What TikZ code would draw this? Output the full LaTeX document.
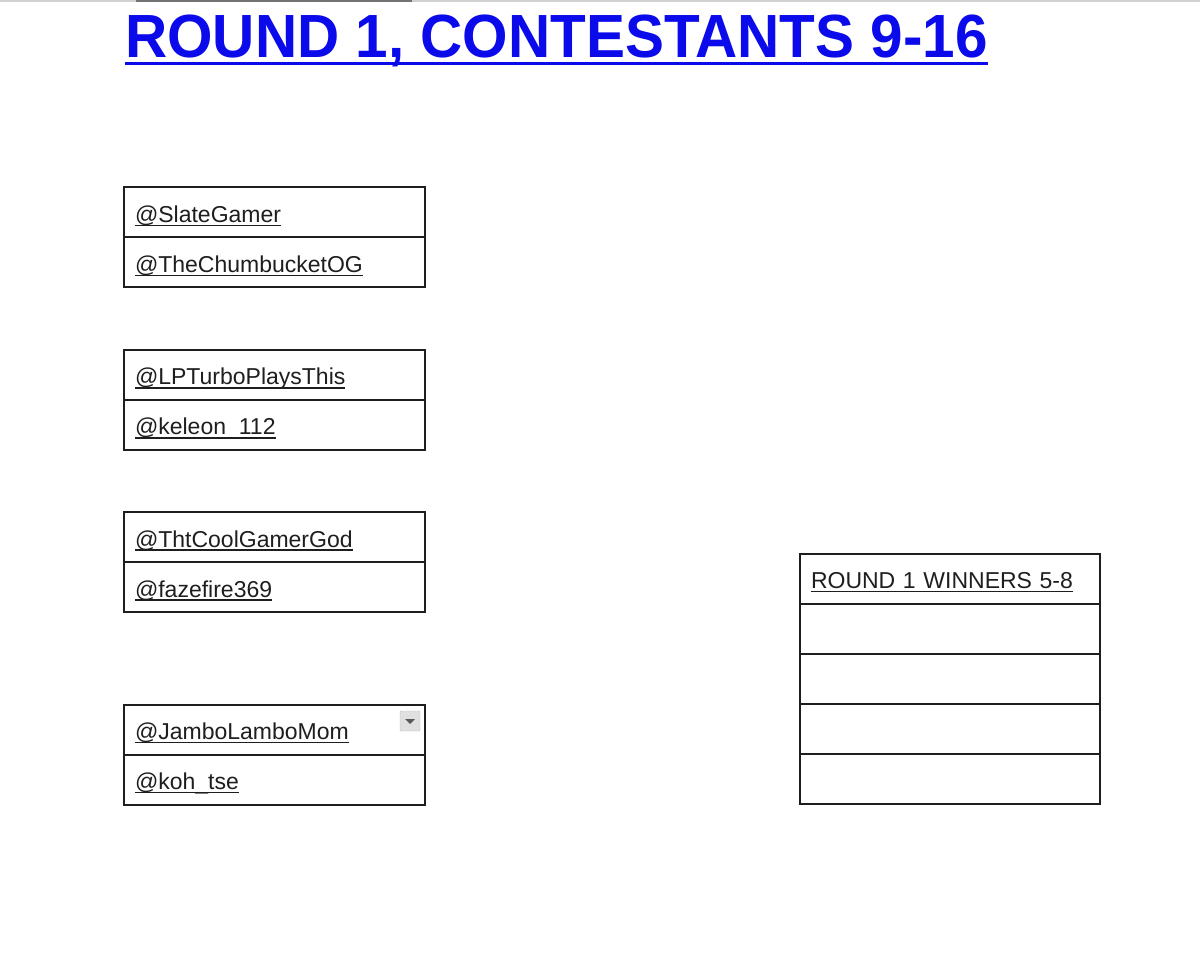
\documentclass[tikz,border=0pt]{standalone}
\usepackage{fontspec}
\setmainfont{Liberation Sans}
\usepackage{tikz}
\usetikzlibrary{positioning}

\definecolor{titleblue}{RGB}{10,10,235}
\definecolor{ink}{RGB}{30,30,30}

% underlined text: #1 rule offset, #2 rule thickness, #3 text
\newcommand{\ulbox}[3]{\setbox0\hbox{#3}\rlap{\rule[#1]{\wd0}{#2}}\box0}
\newcommand{\handle}[1]{\ulbox{-3.6pt}{1.3pt}{#1}}

\begin{document}
\begin{tikzpicture}
			[x=1pt,y=-1pt,
			cell/.style={draw=ink,line width=2pt,rectangle,outer sep=0pt,
				minimum width=301pt,minimum height=50pt,text width=279pt,inner xsep=11pt,
				text height=20pt,text depth=0pt,align=left,text=ink,
				font=\fontsize{23}{26}\selectfont},
			wide/.style={cell,minimum width=300pt,text width=278pt}]
			\useasboundingbox (0,0) rectangle (1200,973);
			\fill[black!18] (0,0) rectangle (1200,2);
			\fill[black!55] (136,0) rectangle (412,2);
			
			\node[anchor=base west,inner sep=0pt,text=titleblue,font=\fontsize{61}{64}\selectfont\bfseries] (title) at (125,58)
			{\scalebox{0.958}[1]{\ulbox{-7pt}{3pt}{ROUND 1, CONTESTANTS 9-16}}};
			
			\node[cell] (m1a) at (274.5,212.5) {\handle{@SlateGamer}};
			\node[cell,below=0pt of m1a] (m1b) {\handle{@TheChumbucketOG}};
			
			\node[cell] (m2a) at (274.5,375) {\handle{@LPTurboPlaysThis}};
			\node[cell,below=0pt of m2a] (m2b) {\handle{@keleon\_112}};
			
			\node[cell] (m3a) at (274.5,537) {\handle{@ThtCoolGamerGod}};
			\node[cell,below=0pt of m3a] (m3b) {\handle{@fazefire369}};
			
			\node[cell] (m4a) at (274.5,729.5) {\handle{@JamboLamboMom}};
			\node[cell,below=0pt of m4a] (m4b) {\handle{@koh\_tse}};
			
			\node[draw=black!25,fill=black!12,rounded corners=1pt,minimum size=20pt,inner sep=0pt] (drop) at (410,721) {};
			\fill[black!65] ([xshift=-5pt,yshift=2pt]drop.center) -- ([xshift=5pt,yshift=2pt]drop.center) -- ([yshift=-3pt]drop.center) -- cycle;
			
			\node[wide] (w1) at (950,578.5) {\handle{ROUND 1 WINNERS 5-8}};
			\node[wide,below=0pt of w1] (w2) {};
			\node[wide,below=0pt of w2] (w3) {};
			\node[wide,below=0pt of w3] (w4) {};
			\node[wide,below=0pt of w4] (w5) {};
			\end{tikzpicture}
\end{document}
